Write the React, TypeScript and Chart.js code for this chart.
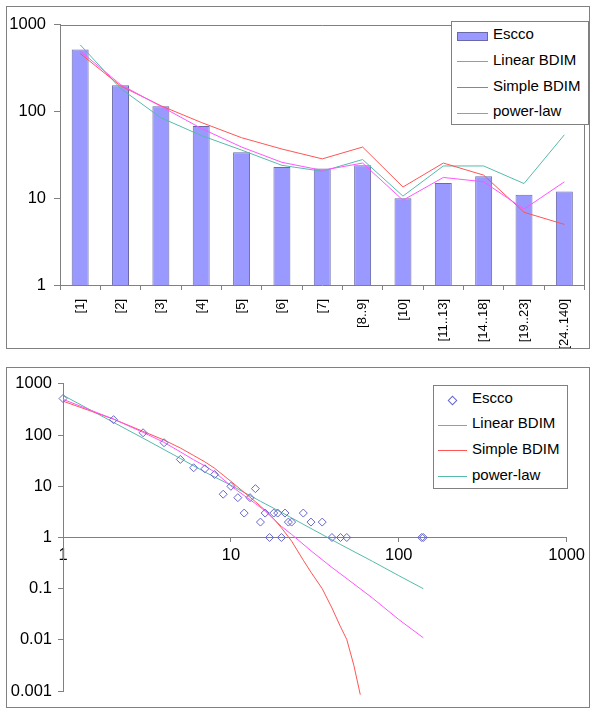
import React, { useEffect, useRef } from "react";
import { Chart, registerables } from "chart.js";

Chart.register(...registerables);

// ---------- Top chart (binned) ----------
const CATEGORIES = ["[1]", "[2]", "[3]", "[4]", "[5]", "[6]", "[7]", "[8..9]", "[10]", "[11..13]", "[14..18]", "[19..23]", "[24..140]"];
const ESCCO_BINNED = [522, 202, 115, 68, 34, 23, 22, 24, 10, 15, 18, 11, 12];
const LINEAR_BINNED = [500, 205, 115, 64, 39, 26, 21, 25.5, 9.5, 17.4, 15.5, 7.5, 15.5];
const SIMPLE_BINNED = [468, 198, 117, 75, 50, 37, 28.5, 39, 13.5, 25.5, 18.5, 6.9, 5.0];
const POWER_BINNED = [590, 185, 85, 53, 36, 24, 20.5, 28, 10.6, 23.6, 23.6, 14.8, 54];
const TOP_Y_TICKS = [1, 10, 100, 1000];

// ---------- Bottom chart (log-log) ----------
const ESCCO_X = [1, 2, 3, 4, 5, 6, 7, 8, 9, 10, 11, 12, 13, 14, 15, 16, 17, 18, 19, 20, 21, 22, 23, 27, 30, 35, 40, 45, 49, 137, 140];
const ESCCO_Y = [518, 200, 111, 71, 33.5, 23, 22, 17, 7, 10, 6, 3, 6, 9, 2, 3, 1, 3, 3, 1, 3, 2, 2, 3, 2, 2, 1, 1, 1, 1, 1];
const LINEAR_X = [1, 2, 3, 4, 5, 6, 7, 8, 10, 12, 14, 16, 18, 20, 23, 30, 40, 50, 70, 100, 140];
const LINEAR_Y = [500, 205, 113, 72, 47, 33, 25, 19, 10.2, 6.6, 4.6, 3.3, 2.3, 1.65, 1.15, 0.55, 0.26, 0.15, 0.065, 0.025, 0.011];
const SIMPLE_X = [1, 2, 3, 4, 5, 6, 7, 8, 9, 10, 12, 14, 16, 18, 20, 23, 27, 30, 35, 40, 45, 49, 54, 59];
const SIMPLE_Y = [460, 205, 118, 80, 56, 40, 30, 22.5, 16.5, 12.5, 7.6, 5, 3.4, 2.3, 1.55, 0.85, 0.36, 0.21, 0.1, 0.042, 0.018, 0.0102, 0.0032, 0.00085];
const POWER_X = [1, 2, 3, 5, 7, 10, 15, 20, 30, 45, 70, 100, 140];
const POWER_Y = [600, 177, 87, 35, 19, 10.5, 5.1, 3.1, 1.5, 0.73, 0.34, 0.18, 0.1];
const BOTTOM_Y_TICKS = [0.001, 0.01, 0.1, 1, 10, 100, 1000];
const BOTTOM_X_TICKS = [1, 10, 100, 1000];

const FONT = '"Liberation Sans", Arial, Helvetica, sans-serif';
const AXIS_GRAY = "#808080";
const BAR_FILL = "#9999ff";
const BAR_EDGE = "#6a6aa8";
const PINK = "#ff55ff";
const RED = "#ff5555";
const TEAL = "#55bbaa";
const DIAMOND = "#6666cc";

const toPts = (xs: number[], ys: number[]) => xs.map((x, i) => ({ x, y: ys[i] }));

const plotBorder = {
  id: "plotBorder",
  beforeDatasetsDraw(chart: any) {
    const { ctx, chartArea } = chart;
    const { left, top, right, bottom } = chartArea;
    ctx.save();
    ctx.strokeStyle = AXIS_GRAY;
    ctx.lineWidth = 1;
    ctx.beginPath();
    ctx.moveTo(left, Math.round(top) + 0.5);
    ctx.lineTo(right, Math.round(top) + 0.5);
    ctx.moveTo(Math.round(right) - 0.5, top);
    ctx.lineTo(Math.round(right) - 0.5, bottom);
    ctx.stroke();
    ctx.restore();
  },
};

export default function App() {
  const topRef = useRef<HTMLCanvasElement>(null);
  const botRef = useRef<HTMLCanvasElement>(null);

  useEffect(() => {
    const lineDs = (label: string, data: number[], color: string) => ({
      type: "line" as const,
      label,
      data,
      borderColor: color,
      backgroundColor: color,
      borderWidth: 1,
      pointRadius: 0,
      tension: 0,
      order: 1,
    });

    const c1 = new Chart(topRef.current as HTMLCanvasElement, {
      type: "bar",
      data: {
        labels: CATEGORIES,
        datasets: [
          {
            type: "bar",
            label: "Escco",
            data: ESCCO_BINNED,
            backgroundColor: BAR_FILL,
            borderColor: BAR_EDGE,
            borderWidth: 1,
            categoryPercentage: 1,
            barPercentage: 0.42,
            order: 5,
          } as any,
          lineDs("Linear BDIM", LINEAR_BINNED, PINK),
          lineDs("Simple BDIM", SIMPLE_BINNED, RED),
          lineDs("power-law", POWER_BINNED, TEAL),
        ],
      },
      options: {
        responsive: false,
        animation: false,
        layout: { padding: { top: 13, right: 1, left: 0, bottom: 0 } },
        plugins: { legend: { display: false }, tooltip: { enabled: false } },
        scales: {
          x: {
            type: "category",
            grid: { offset: true, drawOnChartArea: false, drawTicks: true, tickLength: 5, color: AXIS_GRAY },
            border: { color: AXIS_GRAY },
            ticks: {
              minRotation: 90,
              maxRotation: 90,
              autoSkip: false,
              color: "#000",
              padding: 9,
              font: { family: FONT, size: 13 },
            },
            afterFit: (s: any) => {
              s.height = 63;
            },
          },
          y: {
            type: "logarithmic",
            min: 1,
            max: 1000,
            afterBuildTicks: (s: any) => {
              s.ticks = TOP_Y_TICKS.map((v) => ({ value: v }));
            },
            ticks: {
              color: "#000",
              padding: 8,
              font: { family: FONT, size: 16.5 },
              callback: (v: any) => String(v),
            },
            grid: { drawOnChartArea: false, drawTicks: true, tickLength: 6, color: AXIS_GRAY },
            border: { color: AXIS_GRAY },
            afterFit: (s: any) => {
              s.width = 53;
            },
          },
        },
      } as any,
      plugins: [plotBorder],
    });

    const sLine = (label: string, xs: number[], ys: number[], color: string) => ({
      label,
      data: toPts(xs, ys),
      showLine: true,
      borderColor: color,
      backgroundColor: color,
      borderWidth: 1,
      pointRadius: 0,
      tension: 0,
      order: 2,
      clip: { left: 0, top: 0, right: 0, bottom: 8 },
    });

    const c2 = new Chart(botRef.current as HTMLCanvasElement, {
      type: "scatter",
      data: {
        datasets: [
          {
            label: "Escco",
            data: toPts(ESCCO_X, ESCCO_Y),
            pointStyle: "rectRot",
            pointRadius: 4,
            borderWidth: 1,
            borderColor: DIAMOND,
            backgroundColor: "rgba(0,0,0,0)",
            order: 0,
            clip: false,
          } as any,
          sLine("Linear BDIM", LINEAR_X, LINEAR_Y, PINK),
          sLine("Simple BDIM", SIMPLE_X, SIMPLE_Y, RED),
          sLine("power-law", POWER_X, POWER_Y, TEAL),
        ],
      },
      options: {
        responsive: false,
        animation: false,
        layout: { padding: { top: 14, right: 18, left: 0, bottom: 11 } },
        plugins: { legend: { display: false }, tooltip: { enabled: false } },
        scales: {
          x: {
            type: "logarithmic",
            min: 1,
            max: 1000,
            position: { y: 1 },
            afterBuildTicks: (s: any) => {
              s.ticks = BOTTOM_X_TICKS.map((v) => ({ value: v }));
            },
            ticks: {
              color: "#000",
              padding: 4,
              autoSkip: false,
              maxRotation: 0,
              minRotation: 0,
              font: { family: FONT, size: 16.5 },
              callback: (v: any) => String(v),
            },
            grid: { drawOnChartArea: false, drawTicks: true, tickLength: 4, color: AXIS_GRAY },
            border: { color: AXIS_GRAY },
            afterFit: (s: any) => {
              s.height = 0;
            },
          },
          y: {
            type: "logarithmic",
            min: 0.001,
            max: 1000,
            afterBuildTicks: (s: any) => {
              s.ticks = BOTTOM_Y_TICKS.map((v) => ({ value: v }));
            },
            ticks: {
              color: "#000",
              padding: 6,
              font: { family: FONT, size: 16.5 },
              callback: (v: any) => String(v),
            },
            grid: { drawOnChartArea: false, drawTicks: true, tickLength: 5, color: AXIS_GRAY },
            border: { color: AXIS_GRAY },
            afterFit: (s: any) => {
              s.width = 56;
            },
          },
        },
      } as any,
    });

    return () => {
      c1.destroy();
      c2.destroy();
    };
  }, []);

  const legendText = (left: number, capCenter: number, text: string) => (
    <div
      style={{
        position: "absolute",
        left,
        top: capCenter - 10,
        height: 20,
        lineHeight: "20px",
        fontSize: 15,
        fontFamily: FONT,
        color: "#000",
        whiteSpace: "nowrap",
      }}
    >
      {text}
    </div>
  );
  const legendLine = (left: number, width: number, y: number, color: string) => (
    <div style={{ position: "absolute", left, top: y, width, height: 1, background: color }} />
  );

  return (
    <div style={{ position: "absolute", left: 0, top: 0, width: 600, height: 720, background: "#fff" }}>
      {/* Top chart */}
      <div style={{ position: "absolute", left: 6, top: 6, width: 582, height: 341, border: `1px solid ${AXIS_GRAY}` }}>
        <canvas ref={topRef} width={582} height={341} style={{ display: "block", width: 582, height: 341 }} />
      </div>
      <div
        style={{
          position: "absolute",
          left: 451,
          top: 21,
          width: 136,
          height: 102,
          border: `1px solid ${AXIS_GRAY}`,
          background: "#fff",
        }}
      />
      <div
        style={{
          position: "absolute",
          left: 457,
          top: 32,
          width: 29,
          height: 7,
          background: BAR_FILL,
          border: `1px solid ${BAR_EDGE}`,
        }}
      />
      {legendText(493, 34, "Escco")}
      {legendLine(457, 31, 61, PINK)}
      {legendText(493, 60, "Linear BDIM")}
      {legendLine(457, 31, 87, RED)}
      {legendText(493, 86, "Simple BDIM")}
      {legendLine(457, 31, 113, TEAL)}
      {legendText(493, 111, "power-law")}

      {/* Bottom chart */}
      <div style={{ position: "absolute", left: 6, top: 367, width: 582, height: 339, border: `1px solid ${AXIS_GRAY}` }}>
        <canvas ref={botRef} width={582} height={339} style={{ display: "block", width: 582, height: 339 }} />
      </div>
      <div
        style={{
          position: "absolute",
          left: 433,
          top: 385,
          width: 133,
          height: 102,
          border: `1px solid ${AXIS_GRAY}`,
          background: "#fff",
        }}
      />
      <div
        style={{
          position: "absolute",
          left: 449,
          top: 397,
          width: 5,
          height: 5,
          border: `1px solid ${DIAMOND}`,
          transform: "rotate(45deg)",
        }}
      />
      {legendText(472, 398, "Escco")}
      {legendLine(438, 29, 425, PINK)}
      {legendText(472, 423, "Linear BDIM")}
      {legendLine(438, 29, 450, RED)}
      {legendText(472, 449, "Simple BDIM")}
      {legendLine(438, 29, 476, TEAL)}
      {legendText(472, 475, "power-law")}
    </div>
  );
}
